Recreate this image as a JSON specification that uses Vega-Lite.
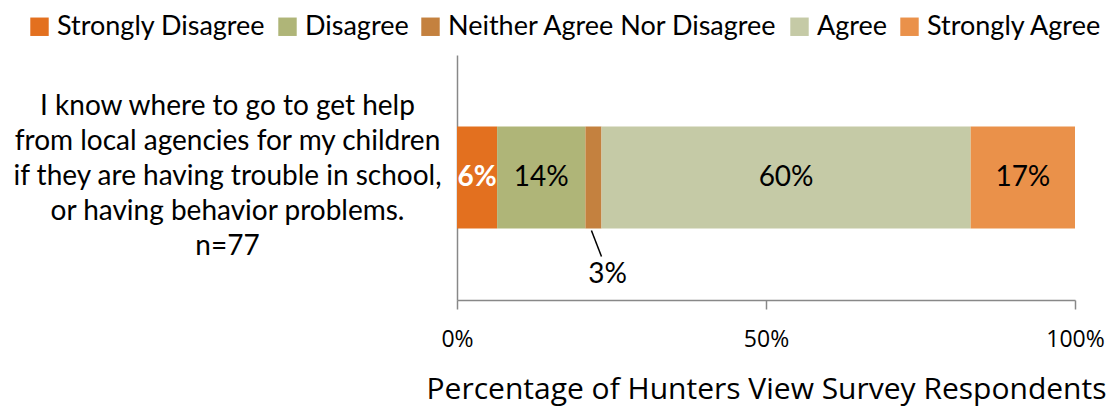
{
  "$schema": "https://vega.github.io/schema/vega-lite/v6.json",
  "autosize": {"type": "none"},
  "width": 618,
  "height": 245,
  "padding": {"left": 457, "top": 55, "right": 40, "bottom": 107},
  "background": "white",
  "config": {"view": {"stroke": null}},
  "data": {
    "values": [
      {"q": "I know where to go to get help|from local agencies for my children|if they are having trouble in school,|or having behavior problems.|n=77", "r": "Strongly Disagree", "o": 1, "v": 6.49, "lab": "6%"},
      {"q": "I know where to go to get help|from local agencies for my children|if they are having trouble in school,|or having behavior problems.|n=77", "r": "Disagree", "o": 2, "v": 14.29, "lab": "14%"},
      {"q": "I know where to go to get help|from local agencies for my children|if they are having trouble in school,|or having behavior problems.|n=77", "r": "Neither Agree Nor Disagree", "o": 3, "v": 2.6, "lab": "3%"},
      {"q": "I know where to go to get help|from local agencies for my children|if they are having trouble in school,|or having behavior problems.|n=77", "r": "Agree", "o": 4, "v": 59.74, "lab": "60%"},
      {"q": "I know where to go to get help|from local agencies for my children|if they are having trouble in school,|or having behavior problems.|n=77", "r": "Strongly Agree", "o": 5, "v": 16.88, "lab": "17%"}
    ]
  },
  "transform": [
    {"stack": "v", "groupby": ["q"], "sort": [{"field": "o", "order": "ascending"}], "as": ["s0", "s1"]}
  ],
  "encoding": {
    "y": {
      "field": "q", "type": "nominal",
      "scale": {"paddingInner": 0, "paddingOuter": 0.7},
      "axis": {
        "title": null, "ticks": false, "domainColor": "#888888", "domainWidth": 1.5,
        "labelExpr": "split(datum.value, '|')",
        "labelAlign": "center", "labelBaseline": "middle", "labelPadding": 230, "labelOffset": -71,
        "labelFont": "Lato", "labelFontSize": 28, "labelLineHeight": 35, "labelLimit": 700, "labelColor": "#000000"
      }
    }
  },
  "layer": [
    {
      "mark": {"type": "bar"},
      "encoding": {
        "x": {
          "field": "s0", "type": "quantitative",
          "scale": {"domain": [0, 100], "nice": false},
          "axis": {
            "values": [0, 50, 100], "labelExpr": "datum.value + '%'", "grid": false,
            "domainColor": "#888888", "domainWidth": 1.5, "tickColor": "#888888", "tickWidth": 1.5, "tickSize": 9,
            "labelFont": "Open Sans", "labelFontSize": 23, "labelColor": "#000000", "labelPadding": 19,
            "labelFlush": false, "labelOverlap": false,
            "title": "Percentage of Hunters View Survey Respondents",
            "titleFont": "Open Sans", "titleFontSize": 30, "titleFontWeight": "normal", "titleColor": "#000000", "titlePadding": 23
          }
        },
        "x2": {"field": "s1"},
        "color": {
          "field": "r", "type": "nominal",
          "scale": {
            "domain": ["Strongly Disagree", "Disagree", "Neither Agree Nor Disagree", "Agree", "Strongly Agree"],
            "range": ["#E3701F", "#AFB578", "#C4813F", "#C5CAA6", "#EA914A"]
          },
          "legend": {
            "title": null, "orient": "none", "direction": "horizontal", "columns": 5,
            "legendX": -431, "legendY": -42, "padding": 0,
            "symbolType": "square", "symbolSize": 340, "symbolStrokeWidth": 0, "symbolOpacity": 1,
            "labelFont": "Lato", "labelFontSize": 27, "labelColor": "#000000", "labelOffset": 4, "labelLimit": 500,
            "columnPadding": 8
          }
        }
      }
    },
    {
      "mark": {"type": "text", "font": "Lato", "fontSize": 28, "fontWeight": "bold", "color": "white"},
      "encoding": {
        "x": {"field": "v", "type": "quantitative", "stack": "zero", "bandPosition": 0.5},
        "detail": {"field": "r"},
        "order": {"field": "o"},
        "text": {"condition": {"test": "datum.r === 'Strongly Disagree'", "field": "lab"}, "value": ""}
      }
    },
    {
      "mark": {"type": "text", "font": "Lato", "fontSize": 28, "color": "black"},
      "encoding": {
        "x": {"field": "v", "type": "quantitative", "stack": "zero", "bandPosition": 0.5},
        "detail": {"field": "r"},
        "order": {"field": "o"},
        "text": {"condition": {"test": "datum.r !== 'Strongly Disagree' && datum.r !== 'Neither Agree Nor Disagree'", "field": "lab"}, "value": ""}
      }
    },
    {
      "transform": [{"filter": "datum.r === 'Neither Agree Nor Disagree'"}],
      "mark": {"type": "rule", "color": "black", "strokeWidth": 1.5, "xOffset": 6, "yOffset": 53, "y2Offset": 79},
      "encoding": {
        "x": {"field": "s0", "type": "quantitative"},
        "x2": {"field": "s1"},
        "y2": {"field": "q"}
      }
    },
    {
      "transform": [{"filter": "datum.r === 'Neither Agree Nor Disagree'"}],
      "mark": {"type": "text", "font": "Lato", "fontSize": 28, "color": "black", "dx": 6, "dy": 97},
      "encoding": {
        "x": {"field": "s1", "type": "quantitative"},
        "text": {"field": "lab"}
      }
    }
  ]
}
